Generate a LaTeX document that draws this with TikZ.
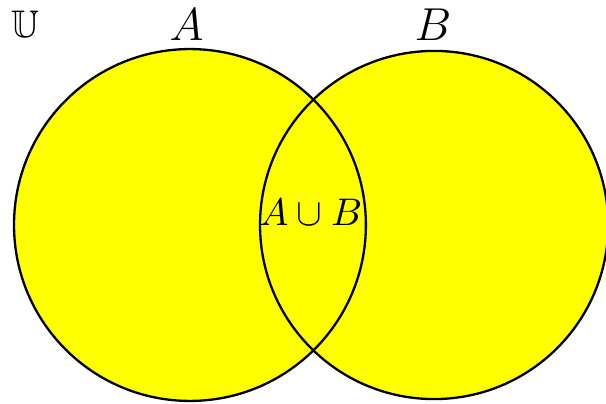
\documentclass[tikz,border=0pt]{standalone}
\usepackage{amsmath}
\usepackage{amssymb}
\usepackage{tikz}
\usepackage{xcolor}
\definecolor{SetFill}{RGB}{255,255,0}

\begin{document}
\begin{tikzpicture}[
  setdisk/.style={circle,fill=SetFill,inner sep=0pt},
  outline/.style={semithick,draw=black},
  setname/.style={font=\large,inner sep=0pt}
]
\useasboundingbox (-1.735,-1.635) rectangle (3.80,2.055);
\node[setdisk,minimum size=3.214cm] (setA) at (0,0) {};
\node[setdisk,minimum size=3.18cm] (setB) at (2.23,0) {};
\draw[outline] (setA.center) circle (1.607);
\draw[outline] (setB.center) circle (1.59);
\node[setname] (labA) at (-0.03,1.83) {$A$};
\node[setname] (labB) at (2.22,1.83) {$B$};
\node[inner sep=0pt] (univ) at (-1.50,1.83) {$\mathbb{U}$};
\node[inner sep=0pt] (union) at (1.105,0.12) {$A\cup B$};
\end{tikzpicture}
\end{document}
